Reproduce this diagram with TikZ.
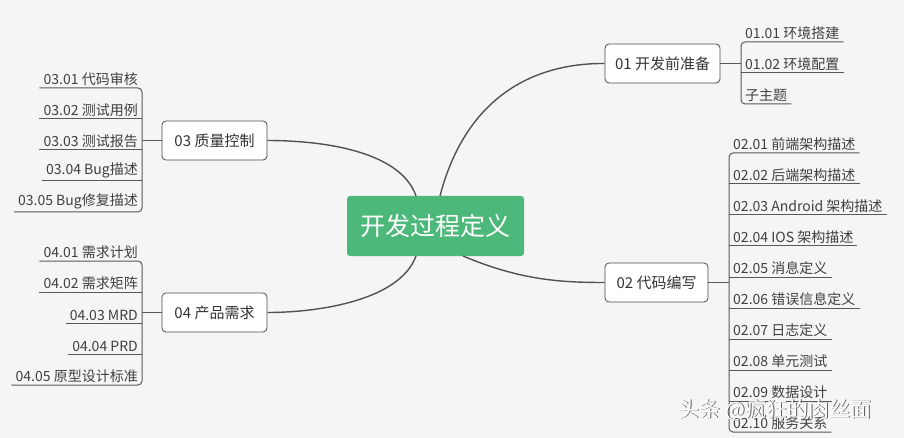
\documentclass[tikz,border=0pt]{standalone}
\usepackage{fontspec}
\setmainfont{Noto Sans CJK SC}
\begin{document}
\begin{tikzpicture}[x=1pt,y=-1pt,
  ln/.style={draw=black!65,line width=1pt},
  cv/.style={draw=black!68,line width=1.4pt},
  topic/.style={draw=black!70,line width=0.8pt,fill=white,rounded corners=4pt,minimum height=39pt,inner xsep=6pt,font=\fontsize{15}{17}\selectfont,text=black!80},
  lr/.style={anchor=south west,inner xsep=4pt,inner ysep=2.5pt,font=\fontsize{14}{15}\selectfont,text=black!75},
  ll/.style={anchor=south east,inner xsep=4pt,inner ysep=2.5pt,font=\fontsize{14}{15}\selectfont,text=black!75}]
\fill[black!4] (0,0) rectangle (904,438);
\useasboundingbox (0,0) rectangle (904,438);
\node[fill={rgb,255:red,76;green,184;blue,122},rounded corners=3pt,minimum width=177pt,minimum height=60pt,text=white,font=\fontsize{25}{28}\selectfont] (c) at (435.5,226) {开发过程定义};
\node[topic,minimum width=115pt] (b1) at (662.5,63.5) {01 开发前准备};
\node[topic,minimum width=103pt] (b2) at (656.5,282.5) {02 代码编写};
\node[topic,minimum width=105pt] (b3) at (214.5,140.5) {03 质量控制};
\node[topic,minimum width=105pt] (b4) at (214.5,312.5) {04 产品需求};
\draw[cv] (440,196) .. controls (465,100) and (530,63) .. (b1.west);
\draw[cv] (463,256) .. controls (520,280) and (560,282.5) .. (b2.west);
\draw[cv] (416,196) .. controls (400,150) and (320,140.5) .. (b3.east);
\draw[cv] (416,256) .. controls (400,300) and (320,312.5) .. (b4.east);
% 01 leaves
\node[lr] (a1) at (741,42) {01.01 环境搭建};
\node[lr] (a2) at (741,73) {01.02 环境配置};
\node[lr] (a3) at (741,104) {子主题};
\coordinate (j1) at (741,63.5);
\draw[ln] (b1.east) -- (j1);
\draw[ln,rounded corners=4pt] (a1.south east) -- (a1.south west) -- (a3.south west) -- (a3.south east);
\draw[ln] (a2.south west) -- (a2.south east);
% 02 leaves
\foreach \i/\t [count=\k from 0] in {1/02.01 前端架构描述,2/02.02 后端架构描述,3/02.03 Android 架构描述,4/02.04 IOS 架构描述,5/02.05 消息定义,6/02.06 错误信息定义,7/02.07 日志定义,8/02.08 单元测试,9/02.09 数据设计,10/02.10 服务关系}{
  \node[lr] (d\i) at (729,153+31*\k) {\t};
}
\coordinate (j2) at (729,282.5);
\draw[ln] (b2.east) -- (j2);
\draw[ln,rounded corners=4pt] (d1.south east) -- (d1.south west) -- (d10.south west) -- (d10.south east);
\foreach \i in {2,...,9}{\draw[ln] (d\i.south west) -- (d\i.south east);}
% 03 leaves
\foreach \i/\t/\y in {1/03.01 代码审核/88,2/03.02 测试用例/119,3/03.03 测试报告/150,4/03.04 Bug描述/181,5/03.05 Bug修复描述/212}{
  \node[ll] (e\i) at (142,\y) {\t};
}
\coordinate (j3) at (142,140.5);
\draw[ln] (b3.west) -- (j3);
\draw[ln,rounded corners=4pt] (e1.south west) -- (e1.south east) -- (e5.south east) -- (e5.south west);
\foreach \i in {2,3,4}{\draw[ln] (e\i.south west) -- (e\i.south east);}
% 04 leaves
\foreach \i/\t/\y in {1/04.01 需求计划/261,2/04.02 需求矩阵/292,3/04.03 MRD/323,4/04.04 PRD/354,5/04.05 原型设计标准/385}{
  \node[ll] (f\i) at (142,\y) {\t};
}
\coordinate (j4) at (142,312.5);
\draw[ln] (b4.west) -- (j4);
\draw[ln,rounded corners=4pt] (f1.south west) -- (f1.south east) -- (f5.south east) -- (f5.south west);
\foreach \i in {2,3,4}{\draw[ln] (f\i.south west) -- (f\i.south east);}
% watermark
\node[text=black!65,font=\fontsize{21}{24}\selectfont] (w0) at (775.8,410.8) {头条 @疯狂的肉丝面};
\node[text=white,font=\fontsize{21}{24}\selectfont] (w) at (775,410) {头条 @疯狂的肉丝面};
\end{tikzpicture}
\end{document}
